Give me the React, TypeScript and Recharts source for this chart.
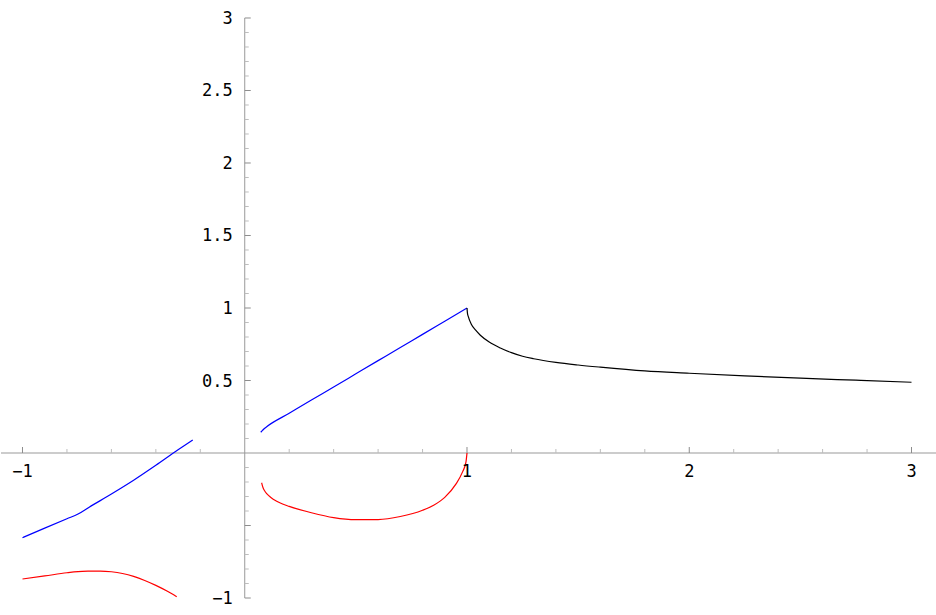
import { LineChart, Line, XAxis, YAxis, ReferenceLine } from "recharts";

const W = 936;
const H = 615;
// the axes take 1px each (a zero-sized axis draws no ticks), so the plot box is 935 x 614
const X_MIN = -1.0967;
const X_MAX = 3.1102;
const Y_MIN = -1.1103;
const Y_MAX = 3.1241;
// where the axes cross, in pixels
const ZERO_X = 1 + ((W - 1) * (0 - X_MIN)) / (X_MAX - X_MIN);
const ZERO_Y = ((H - 1) * Y_MAX) / (Y_MAX - Y_MIN);

// values, one pair of arrays per branch
const blueLeftX = [-1, -0.9, -0.8, -0.75, -0.7, -0.6, -0.5, -0.4, -0.3, -0.234];
const blueLeftY = [-0.584, -0.518, -0.453, -0.421, -0.374, -0.283, -0.188, -0.085, 0.022, 0.09];

const redLeftX = [-1, -0.9, -0.8, -0.75, -0.7, -0.65, -0.6, -0.55, -0.5, -0.45, -0.4, -0.35, -0.306];
const redLeftY = [-0.869, -0.848, -0.826, -0.818, -0.815, -0.814, -0.819, -0.831, -0.851, -0.879, -0.913, -0.952, -0.991];

const blueRightX = [0.072, 0.08, 0.09, 0.1, 0.2, 0.3, 0.4, 0.5, 0.6, 0.7, 0.8, 0.9, 1];
const blueRightY = [0.143, 0.156, 0.171, 0.183, 0.274, 0.365, 0.455, 0.546, 0.637, 0.728, 0.818, 0.909, 1];

const redRightX = [0.076, 0.082, 0.09, 0.1, 0.115, 0.13, 0.16, 0.2, 0.3, 0.4, 0.5, 0.6, 0.7, 0.8, 0.85, 0.9, 0.95, 0.98, 0.995, 1];
const redRightY = [-0.205, -0.238, -0.262, -0.282, -0.304, -0.32, -0.345, -0.368, -0.412, -0.446, -0.46, -0.459, -0.438, -0.395, -0.36, -0.306, -0.215, -0.13, -0.065, 0];

const blackX = [1, 1.002, 1.006, 1.02, 1.04, 1.06, 1.1, 1.15, 1.2, 1.25, 1.3, 1.4, 1.5, 1.6, 1.8, 2, 2.25, 2.5, 2.75, 3];
const blackY = [1, 0.965, 0.94, 0.886, 0.845, 0.812, 0.765, 0.724, 0.692, 0.667, 0.65, 0.625, 0.607, 0.592, 0.566, 0.55, 0.532, 0.516, 0.502, 0.488];

// tick labels (0 and -0.5 are not labelled in the original)
const xLabels = [-1, 1, 2, 3];
const yLabels = [-1, 0.5, 1, 1.5, 2, 2.5, 3];

const xTicks: number[] = [];
for (let i = -5; i <= 15; i++) if (i !== 0) xTicks.push(i / 5);
const yTicks: number[] = [];
for (let i = -10; i <= 30; i++) if (i !== 0) yTicks.push(i / 10);

const zip = (xs: number[], ys: number[]) => xs.map((x, i) => ({ x, y: ys[i] }));

const fmt = (v: number) => String(v).replace("-", "\u2212");
const font = { fontFamily: "DejaVu Sans Mono", fontSize: 17, fill: "#000" };

function XTick({ x, payload }: any) {
  const v = payload.value;
  const major = Number.isInteger(v);
  return (
    <g>
      <line x1={x} x2={x} y1={ZERO_Y} y2={ZERO_Y - (major ? 6 : 4)} stroke={major ? "#8c8c8c" : "#bdbdbd"} />
      {xLabels.includes(v) && (
        <text x={x} y={ZERO_Y + 18} textAnchor="middle" dominantBaseline="central" {...font}>
          {fmt(v)}
        </text>
      )}
    </g>
  );
}

function YTick({ y, payload }: any) {
  const v = payload.value;
  const major = Math.abs(v * 2 - Math.round(v * 2)) < 1e-9;
  return (
    <g>
      <line x1={ZERO_X} x2={ZERO_X + (major ? 6 : 4)} y1={y} y2={y} stroke={major ? "#8c8c8c" : "#bdbdbd"} />
      {yLabels.includes(v) && (
        <text x={ZERO_X - 12} y={y} textAnchor="end" dominantBaseline="central" {...font}>
          {fmt(v)}
        </text>
      )}
    </g>
  );
}

const lineProps = {
  dataKey: "y",
  type: "monotone" as const,
  strokeWidth: 1.2,
  dot: false,
  activeDot: false,
  isAnimationActive: false,
};

export default function App() {
  return (
    <div style={{ position: "absolute", left: 0, top: 0, background: "#fff" }}>
      <LineChart width={W} height={H} margin={{ top: 0, right: 0, bottom: 0, left: 0 }}>
        <XAxis
          type="number"
          dataKey="x"
          domain={[X_MIN, X_MAX]}
          allowDataOverflow
          ticks={xTicks}
          interval={0}
          height={1}
          axisLine={false}
          tickLine={false}
          tick={<XTick />}
        />
        <YAxis
          type="number"
          dataKey="y"
          domain={[Y_MIN, Y_MAX]}
          allowDataOverflow
          ticks={yTicks}
          interval={0}
          width={1}
          axisLine={false}
          tickLine={false}
          tick={<YTick />}
        />
        <ReferenceLine y={0} stroke="#999" strokeWidth={1} />
        <ReferenceLine segment={[{ x: 0, y: -1 }, { x: 0, y: 3 }]} stroke="#999" strokeWidth={1} />

        <Line {...lineProps} data={zip(blueLeftX, blueLeftY)} stroke="#0000ff" />
        <Line {...lineProps} data={zip(redLeftX, redLeftY)} stroke="#ff0000" />
        <Line {...lineProps} data={zip(blueRightX, blueRightY)} stroke="#0000ff" />
        <Line {...lineProps} data={zip(redRightX, redRightY)} stroke="#ff0000" />
        <Line {...lineProps} data={zip(blackX, blackY)} stroke="#000000" />
      </LineChart>
    </div>
  );
}
